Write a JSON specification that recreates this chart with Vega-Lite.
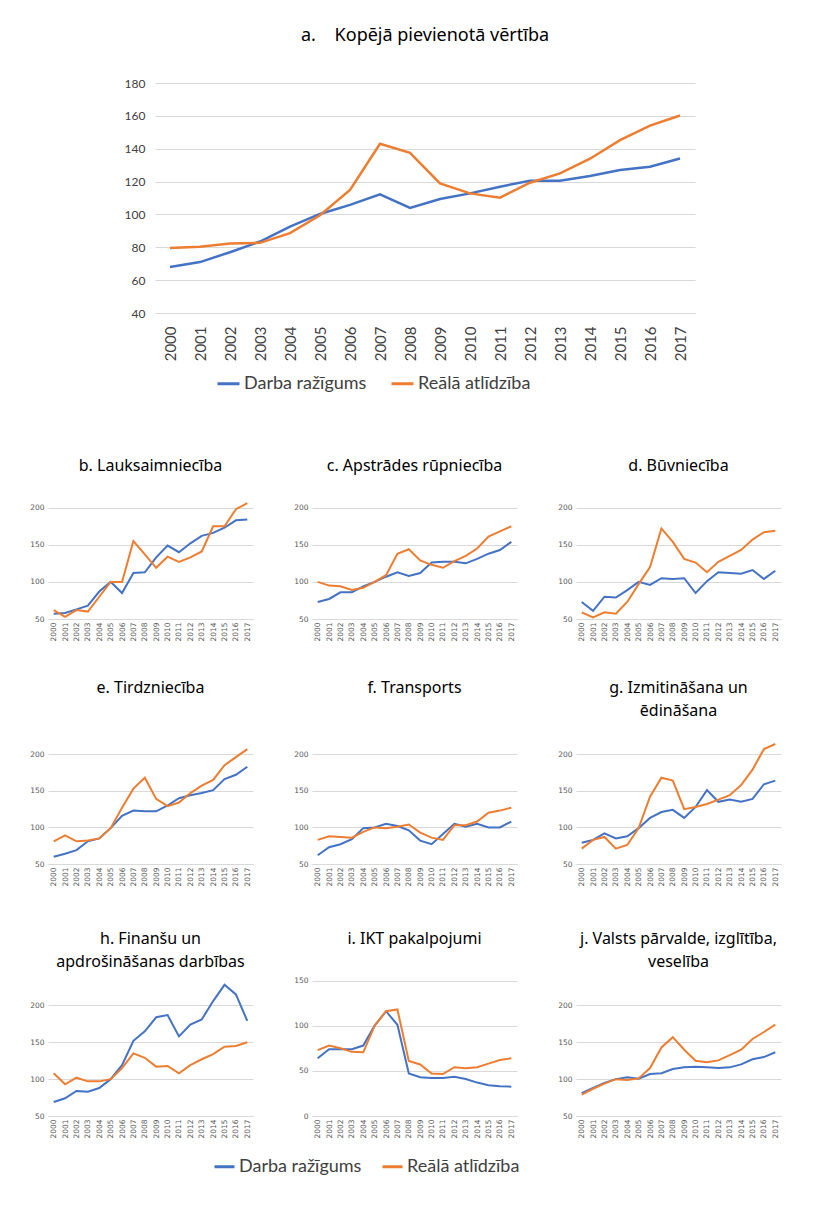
{
  "$schema": "https://vega.github.io/schema/vega-lite/v6.json",
  "padding": {"left": 29, "top": 27, "right": 5, "bottom": 5},
  "background": "white",
  "datasets": {
    "d": [
      {"p":"a","year":2000,"Darba ražīgums":68,"Reālā atlīdzība":79.5},
      {"p":"a","year":2001,"Darba ražīgums":71,"Reālā atlīdzība":80.3},
      {"p":"a","year":2002,"Darba ražīgums":77,"Reālā atlīdzība":82.3},
      {"p":"a","year":2003,"Darba ražīgums":83.5,"Reālā atlīdzība":82.7},
      {"p":"a","year":2004,"Darba ražīgums":92.6,"Reālā atlīdzība":88.6},
      {"p":"a","year":2005,"Darba ražīgums":100.3,"Reālā atlīdzība":99.5},
      {"p":"a","year":2006,"Darba ražīgums":105.8,"Reālā atlīdzība":114.9},
      {"p":"a","year":2007,"Darba ražīgums":112.2,"Reālā atlīdzība":143},
      {"p":"a","year":2008,"Darba ražīgums":104,"Reālā atlīdzība":137.5},
      {"p":"a","year":2009,"Darba ražīgums":109.4,"Reālā atlīdzība":118.9},
      {"p":"a","year":2010,"Darba ražīgums":112.8,"Reālā atlīdzība":112.8},
      {"p":"a","year":2011,"Darba ražīgums":116.9,"Reālā atlīdzība":110.2},
      {"p":"a","year":2012,"Darba ražīgums":120.5,"Reālā atlīdzība":119.3},
      {"p":"a","year":2013,"Darba ražīgums":120.5,"Reālā atlīdzība":125},
      {"p":"a","year":2014,"Darba ražīgums":123.4,"Reālā atlīdzība":133.9},
      {"p":"a","year":2015,"Darba ražīgums":127,"Reālā atlīdzība":145.2},
      {"p":"a","year":2016,"Darba ražīgums":129,"Reālā atlīdzība":154.1},
      {"p":"a","year":2017,"Darba ražīgums":134,"Reālā atlīdzība":160.2},

      {"p":"b","year":2000,"Darba ražīgums":57,"Reālā atlīdzība":62},
      {"p":"b","year":2001,"Darba ražīgums":58,"Reālā atlīdzība":53},
      {"p":"b","year":2002,"Darba ražīgums":63,"Reālā atlīdzība":62},
      {"p":"b","year":2003,"Darba ražīgums":68,"Reālā atlīdzība":60},
      {"p":"b","year":2004,"Darba ražīgums":87,"Reālā atlīdzība":80},
      {"p":"b","year":2005,"Darba ražīgums":100,"Reālā atlīdzība":100},
      {"p":"b","year":2006,"Darba ražīgums":85,"Reālā atlīdzība":100},
      {"p":"b","year":2007,"Darba ražīgums":112,"Reālā atlīdzība":155},
      {"p":"b","year":2008,"Darba ražīgums":113,"Reālā atlīdzība":137},
      {"p":"b","year":2009,"Darba ražīgums":133,"Reālā atlīdzība":119},
      {"p":"b","year":2010,"Darba ražīgums":149,"Reālā atlīdzība":134},
      {"p":"b","year":2011,"Darba ražīgums":140,"Reālā atlīdzība":127},
      {"p":"b","year":2012,"Darba ražīgums":152,"Reālā atlīdzība":133},
      {"p":"b","year":2013,"Darba ražīgums":162,"Reālā atlīdzība":141},
      {"p":"b","year":2014,"Darba ražīgums":166,"Reālā atlīdzība":175},
      {"p":"b","year":2015,"Darba ražīgums":173,"Reālā atlīdzība":175},
      {"p":"b","year":2016,"Darba ražīgums":183,"Reālā atlīdzība":198},
      {"p":"b","year":2017,"Darba ražīgums":184,"Reālā atlīdzība":206},

      {"p":"c","year":2000,"Darba ražīgums":73,"Reālā atlīdzība":100},
      {"p":"c","year":2001,"Darba ražīgums":77,"Reālā atlīdzība":95},
      {"p":"c","year":2002,"Darba ražīgums":86,"Reālā atlīdzība":94},
      {"p":"c","year":2003,"Darba ražīgums":86,"Reālā atlīdzība":89},
      {"p":"c","year":2004,"Darba ražīgums":94,"Reālā atlīdzība":92},
      {"p":"c","year":2005,"Darba ražīgums":100,"Reālā atlīdzība":100},
      {"p":"c","year":2006,"Darba ražīgums":107,"Reālā atlīdzība":109},
      {"p":"c","year":2007,"Darba ražīgums":113,"Reālā atlīdzība":138},
      {"p":"c","year":2008,"Darba ražīgums":108,"Reālā atlīdzība":144},
      {"p":"c","year":2009,"Darba ražīgums":112,"Reālā atlīdzība":129},
      {"p":"c","year":2010,"Darba ražīgums":126,"Reālā atlīdzība":123},
      {"p":"c","year":2011,"Darba ražīgums":127,"Reālā atlīdzība":119},
      {"p":"c","year":2012,"Darba ražīgums":127,"Reālā atlīdzība":128},
      {"p":"c","year":2013,"Darba ražīgums":125,"Reālā atlīdzība":135},
      {"p":"c","year":2014,"Darba ražīgums":131,"Reālā atlīdzība":145},
      {"p":"c","year":2015,"Darba ražīgums":138,"Reālā atlīdzība":161},
      {"p":"c","year":2016,"Darba ražīgums":143,"Reālā atlīdzība":168},
      {"p":"c","year":2017,"Darba ražīgums":154,"Reālā atlīdzība":175},

      {"p":"d","year":2000,"Darba ražīgums":73,"Reālā atlīdzība":59},
      {"p":"d","year":2001,"Darba ražīgums":61,"Reālā atlīdzība":52},
      {"p":"d","year":2002,"Darba ražīgums":80,"Reālā atlīdzība":59},
      {"p":"d","year":2003,"Darba ražīgums":79,"Reālā atlīdzība":57},
      {"p":"d","year":2004,"Darba ražīgums":89,"Reālā atlīdzība":73},
      {"p":"d","year":2005,"Darba ražīgums":100,"Reālā atlīdzība":97},
      {"p":"d","year":2006,"Darba ražīgums":96,"Reālā atlīdzība":120},
      {"p":"d","year":2007,"Darba ražīgums":105,"Reālā atlīdzība":172},
      {"p":"d","year":2008,"Darba ražīgums":104,"Reālā atlīdzība":154},
      {"p":"d","year":2009,"Darba ražīgums":105,"Reālā atlīdzība":131},
      {"p":"d","year":2010,"Darba ražīgums":85,"Reālā atlīdzība":126},
      {"p":"d","year":2011,"Darba ražīgums":101,"Reālā atlīdzība":113},
      {"p":"d","year":2012,"Darba ražīgums":113,"Reālā atlīdzība":127},
      {"p":"d","year":2013,"Darba ražīgums":112,"Reālā atlīdzība":135},
      {"p":"d","year":2014,"Darba ražīgums":111,"Reālā atlīdzība":143},
      {"p":"d","year":2015,"Darba ražīgums":116,"Reālā atlīdzība":157},
      {"p":"d","year":2016,"Darba ražīgums":104,"Reālā atlīdzība":167},
      {"p":"d","year":2017,"Darba ražīgums":115,"Reālā atlīdzība":169},

      {"p":"e","year":2000,"Darba ražīgums":60,"Reālā atlīdzība":81},
      {"p":"e","year":2001,"Darba ražīgums":64,"Reālā atlīdzība":89},
      {"p":"e","year":2002,"Darba ražīgums":69,"Reālā atlīdzība":81},
      {"p":"e","year":2003,"Darba ražīgums":81,"Reālā atlīdzība":82},
      {"p":"e","year":2004,"Darba ražīgums":85,"Reālā atlīdzība":85},
      {"p":"e","year":2005,"Darba ražīgums":99,"Reālā atlīdzība":99},
      {"p":"e","year":2006,"Darba ražīgums":116,"Reālā atlīdzība":127},
      {"p":"e","year":2007,"Darba ražīgums":123,"Reālā atlīdzība":153},
      {"p":"e","year":2008,"Darba ražīgums":122,"Reālā atlīdzība":168},
      {"p":"e","year":2009,"Darba ražīgums":122,"Reālā atlīdzība":139},
      {"p":"e","year":2010,"Darba ražīgums":130,"Reālā atlīdzība":129},
      {"p":"e","year":2011,"Darba ražīgums":140,"Reālā atlīdzība":134},
      {"p":"e","year":2012,"Darba ražīgums":144,"Reālā atlīdzība":147},
      {"p":"e","year":2013,"Darba ražīgums":147,"Reālā atlīdzība":157},
      {"p":"e","year":2014,"Darba ražīgums":151,"Reālā atlīdzība":165},
      {"p":"e","year":2015,"Darba ražīgums":166,"Reālā atlīdzība":185},
      {"p":"e","year":2016,"Darba ražīgums":172,"Reālā atlīdzība":196},
      {"p":"e","year":2017,"Darba ražīgums":183,"Reālā atlīdzība":207},

      {"p":"f","year":2000,"Darba ražīgums":62,"Reālā atlīdzība":83},
      {"p":"f","year":2001,"Darba ražīgums":73,"Reālā atlīdzība":88},
      {"p":"f","year":2002,"Darba ražīgums":77,"Reālā atlīdzība":87},
      {"p":"f","year":2003,"Darba ražīgums":84,"Reālā atlīdzība":86},
      {"p":"f","year":2004,"Darba ražīgums":99,"Reālā atlīdzība":94},
      {"p":"f","year":2005,"Darba ražīgums":100,"Reālā atlīdzība":100},
      {"p":"f","year":2006,"Darba ražīgums":105,"Reālā atlīdzība":99},
      {"p":"f","year":2007,"Darba ražīgums":102,"Reālā atlīdzība":101},
      {"p":"f","year":2008,"Darba ražīgums":96,"Reālā atlīdzība":104},
      {"p":"f","year":2009,"Darba ražīgums":82,"Reālā atlīdzība":93},
      {"p":"f","year":2010,"Darba ražīgums":77,"Reālā atlīdzība":86},
      {"p":"f","year":2011,"Darba ražīgums":91,"Reālā atlīdzība":83},
      {"p":"f","year":2012,"Darba ražīgums":105,"Reālā atlīdzība":103},
      {"p":"f","year":2013,"Darba ražīgums":101,"Reālā atlīdzība":103},
      {"p":"f","year":2014,"Darba ražīgums":105,"Reālā atlīdzība":108},
      {"p":"f","year":2015,"Darba ražīgums":100,"Reālā atlīdzība":120},
      {"p":"f","year":2016,"Darba ražīgums":100,"Reālā atlīdzība":123},
      {"p":"f","year":2017,"Darba ražīgums":108,"Reālā atlīdzība":127},

      {"p":"g","year":2000,"Darba ražīgums":79,"Reālā atlīdzība":71},
      {"p":"g","year":2001,"Darba ražīgums":83,"Reālā atlīdzība":83},
      {"p":"g","year":2002,"Darba ražīgums":92,"Reālā atlīdzība":87},
      {"p":"g","year":2003,"Darba ražīgums":85,"Reālā atlīdzība":71},
      {"p":"g","year":2004,"Darba ražīgums":88,"Reālā atlīdzība":76},
      {"p":"g","year":2005,"Darba ražīgums":99,"Reālā atlīdzība":99},
      {"p":"g","year":2006,"Darba ražīgums":113,"Reālā atlīdzība":142},
      {"p":"g","year":2007,"Darba ražīgums":121,"Reālā atlīdzība":168},
      {"p":"g","year":2008,"Darba ražīgums":124,"Reālā atlīdzība":164},
      {"p":"g","year":2009,"Darba ražīgums":113,"Reālā atlīdzība":125},
      {"p":"g","year":2010,"Darba ražīgums":128,"Reālā atlīdzība":128},
      {"p":"g","year":2011,"Darba ražīgums":151,"Reālā atlīdzība":132},
      {"p":"g","year":2012,"Darba ražīgums":135,"Reālā atlīdzība":138},
      {"p":"g","year":2013,"Darba ražīgums":138,"Reālā atlīdzība":144},
      {"p":"g","year":2014,"Darba ražīgums":135,"Reālā atlīdzība":158},
      {"p":"g","year":2015,"Darba ražīgums":139,"Reālā atlīdzība":179},
      {"p":"g","year":2016,"Darba ražīgums":159,"Reālā atlīdzība":207},
      {"p":"g","year":2017,"Darba ražīgums":164,"Reālā atlīdzība":214},

      {"p":"h","year":2000,"Darba ražīgums":69,"Reālā atlīdzība":108},
      {"p":"h","year":2001,"Darba ražīgums":74,"Reālā atlīdzība":93},
      {"p":"h","year":2002,"Darba ražīgums":84,"Reālā atlīdzība":102},
      {"p":"h","year":2003,"Darba ražīgums":83,"Reālā atlīdzība":97},
      {"p":"h","year":2004,"Darba ražīgums":88,"Reālā atlīdzība":97},
      {"p":"h","year":2005,"Darba ražīgums":100,"Reālā atlīdzība":100},
      {"p":"h","year":2006,"Darba ražīgums":119,"Reālā atlīdzība":115},
      {"p":"h","year":2007,"Darba ražīgums":152,"Reālā atlīdzība":135},
      {"p":"h","year":2008,"Darba ražīgums":165,"Reālā atlīdzība":129},
      {"p":"h","year":2009,"Darba ražīgums":184,"Reālā atlīdzība":117},
      {"p":"h","year":2010,"Darba ražīgums":187,"Reālā atlīdzība":118},
      {"p":"h","year":2011,"Darba ražīgums":158,"Reālā atlīdzība":108},
      {"p":"h","year":2012,"Darba ražīgums":174,"Reālā atlīdzība":119},
      {"p":"h","year":2013,"Darba ražīgums":181,"Reālā atlīdzība":127},
      {"p":"h","year":2014,"Darba ražīgums":206,"Reālā atlīdzība":134},
      {"p":"h","year":2015,"Darba ražīgums":228,"Reālā atlīdzība":144},
      {"p":"h","year":2016,"Darba ražīgums":215,"Reālā atlīdzība":145},
      {"p":"h","year":2017,"Darba ražīgums":179,"Reālā atlīdzība":150},

      {"p":"i","year":2000,"Darba ražīgums":64,"Reālā atlīdzība":73},
      {"p":"i","year":2001,"Darba ražīgums":74,"Reālā atlīdzība":78},
      {"p":"i","year":2002,"Darba ražīgums":74,"Reālā atlīdzība":75},
      {"p":"i","year":2003,"Darba ražīgums":74,"Reālā atlīdzība":71},
      {"p":"i","year":2004,"Darba ražīgums":78,"Reālā atlīdzība":70.5},
      {"p":"i","year":2005,"Darba ražīgums":100,"Reālā atlīdzība":100},
      {"p":"i","year":2006,"Darba ražīgums":116,"Reālā atlīdzība":116},
      {"p":"i","year":2007,"Darba ražīgums":101,"Reālā atlīdzība":118},
      {"p":"i","year":2008,"Darba ražīgums":47,"Reālā atlīdzība":61},
      {"p":"i","year":2009,"Darba ražīgums":43,"Reālā atlīdzība":57},
      {"p":"i","year":2010,"Darba ražīgums":42,"Reālā atlīdzība":47},
      {"p":"i","year":2011,"Darba ražīgums":42,"Reālā atlīdzība":46.5},
      {"p":"i","year":2012,"Darba ražīgums":43.5,"Reālā atlīdzība":54},
      {"p":"i","year":2013,"Darba ražīgums":41,"Reālā atlīdzība":53},
      {"p":"i","year":2014,"Darba ražīgums":37,"Reālā atlīdzība":54},
      {"p":"i","year":2015,"Darba ražīgums":34,"Reālā atlīdzība":58},
      {"p":"i","year":2016,"Darba ražīgums":33,"Reālā atlīdzība":62},
      {"p":"i","year":2017,"Darba ražīgums":32.5,"Reālā atlīdzība":64},

      {"p":"j","year":2000,"Darba ražīgums":81,"Reālā atlīdzība":79},
      {"p":"j","year":2001,"Darba ražīgums":88,"Reālā atlīdzība":87},
      {"p":"j","year":2002,"Darba ražīgums":95,"Reālā atlīdzība":94},
      {"p":"j","year":2003,"Darba ražīgums":100,"Reālā atlīdzība":100},
      {"p":"j","year":2004,"Darba ražīgums":102.6,"Reālā atlīdzība":99},
      {"p":"j","year":2005,"Darba ražīgums":100.5,"Reālā atlīdzība":101},
      {"p":"j","year":2006,"Darba ražīgums":107,"Reālā atlīdzība":115},
      {"p":"j","year":2007,"Darba ražīgums":108,"Reālā atlīdzība":143},
      {"p":"j","year":2008,"Darba ražīgums":113.7,"Reālā atlīdzība":157},
      {"p":"j","year":2009,"Darba ražīgums":116,"Reālā atlīdzība":140},
      {"p":"j","year":2010,"Darba ražīgums":117,"Reālā atlīdzība":125},
      {"p":"j","year":2011,"Darba ražīgums":116,"Reālā atlīdzība":123},
      {"p":"j","year":2012,"Darba ražīgums":115,"Reālā atlīdzība":125.5},
      {"p":"j","year":2013,"Darba ražīgums":116,"Reālā atlīdzība":132.6},
      {"p":"j","year":2014,"Darba ražīgums":120,"Reālā atlīdzība":140},
      {"p":"j","year":2015,"Darba ražīgums":127,"Reālā atlīdzība":154.6},
      {"p":"j","year":2016,"Darba ražīgums":130,"Reālā atlīdzība":164},
      {"p":"j","year":2017,"Darba ražīgums":136.5,"Reālā atlīdzība":174}
    ]
  },
  "data": {"name": "d"},
  "resolve": {"legend": {"color": "independent"}},
  "spacing": 65,
  "vconcat": [
    {
      "spacing": 20,
      "resolve": {"legend": {"color": "independent"}},
      "hconcat": [
        {
          "width": 56, "height": 10,
          "transform": [{"filter": "false"}],
          "mark": {"type": "point"},
          "encoding": {}
        },
        {
          "title": {"text": "a.\u00a0\u00a0\u00a0\u00a0Kopējā pievienotā vērtība", "fontSize": 18, "offset": 32},
          "width": 540, "height": 230,
          "transform": [{"filter": "datum.p == 'a'"}, {"fold": ["Darba ražīgums", "Reālā atlīdzība"], "as": ["s", "v"]}],
          "mark": {"type": "line", "strokeWidth": 2.5},
          "encoding": {
            "x": {"field": "year", "type": "ordinal", "title": null,
                  "axis": {"labelFont": "Lato", "labelFontSize": 15, "labelColor": "#404040", "labelPadding": 13, "domainColor": "#d9d9d9"}},
            "y": {"field": "v", "type": "quantitative", "title": null,
                  "scale": {"domain": [40, 180], "nice": false, "zero": false},
                  "axis": {"values": [40, 60, 80, 100, 120, 140, 160, 180], "labelFont": "Lato", "labelFontSize": 12, "labelColor": "#404040", "labelPadding": 10}},
            "color": {"field": "s", "type": "nominal", "title": null,
                      "scale": {"domain": ["Darba ražīgums", "Reālā atlīdzība"], "range": ["#4472C4", "#ED7D31"]},
                      "legend": {"orient": "none", "legendX": 61, "legendY": 288, "direction": "horizontal",
                                 "labelFont": "Lato", "labelFontSize": 18, "labelColor": "#404040",
                                 "symbolType": "stroke", "symbolSize": 484, "symbolStrokeWidth": 3, "columnPadding": 18, "labelOffset": 3}}
          }
        }
      ]
    },
    {
      "spacing": 38,
      "resolve": {"legend": {"color": "independent"}},
      "vconcat": [
        {
          "spacing": 40,
          "hconcat": [
            {
              "title": {"text": "b. Lauksaimniecība", "offset": 4},
              "width": 205, "height": 141,
              "transform": [{"filter": "datum.p == 'b'"}, {"fold": ["Darba ražīgums", "Reālā atlīdzība"], "as": ["s", "v"]}],
              "mark": {"type": "line", "strokeWidth": 2},
              "encoding": {
                "x": {"field": "year", "type": "ordinal", "title": null},
                "y": {"field": "v", "type": "quantitative", "title": null, "scale": {"domain": [50, 240], "nice": false, "zero": false}, "axis": {"values": [50, 100, 150, 200]}},
                "color": {"field": "s", "type": "nominal", "scale": {"domain": ["Darba ražīgums", "Reālā atlīdzība"], "range": ["#4472C4", "#ED7D31"]}, "legend": null}
              }
            },
            {
              "title": {"text": "c. Apstrādes rūpniecība", "offset": 4},
              "width": 205, "height": 141,
              "transform": [{"filter": "datum.p == 'c'"}, {"fold": ["Darba ražīgums", "Reālā atlīdzība"], "as": ["s", "v"]}],
              "mark": {"type": "line", "strokeWidth": 2},
              "encoding": {
                "x": {"field": "year", "type": "ordinal", "title": null},
                "y": {"field": "v", "type": "quantitative", "title": null, "scale": {"domain": [50, 240], "nice": false, "zero": false}, "axis": {"values": [50, 100, 150, 200]}},
                "color": {"field": "s", "type": "nominal", "scale": {"domain": ["Darba ražīgums", "Reālā atlīdzība"], "range": ["#4472C4", "#ED7D31"]}, "legend": null}
              }
            },
            {
              "title": {"text": "d. Būvniecība", "offset": 4},
              "width": 205, "height": 141,
              "transform": [{"filter": "datum.p == 'd'"}, {"fold": ["Darba ražīgums", "Reālā atlīdzība"], "as": ["s", "v"]}],
              "mark": {"type": "line", "strokeWidth": 2},
              "encoding": {
                "x": {"field": "year", "type": "ordinal", "title": null},
                "y": {"field": "v", "type": "quantitative", "title": null, "scale": {"domain": [50, 240], "nice": false, "zero": false}, "axis": {"values": [50, 100, 150, 200]}},
                "color": {"field": "s", "type": "nominal", "scale": {"domain": ["Darba ražīgums", "Reālā atlīdzība"], "range": ["#4472C4", "#ED7D31"]}, "legend": null}
              }
            }
          ]
        },
        {
          "spacing": 40,
          "hconcat": [
            {
              "title": {"text": ["e. Tirdzniecība", ""]},
              "width": 205, "height": 139,
              "transform": [{"filter": "datum.p == 'e'"}, {"fold": ["Darba ražīgums", "Reālā atlīdzība"], "as": ["s", "v"]}],
              "mark": {"type": "line", "strokeWidth": 2},
              "encoding": {
                "x": {"field": "year", "type": "ordinal", "title": "\u00a0", "axis": {"titleFontSize": 1, "titlePadding": 5}},
                "y": {"field": "v", "type": "quantitative", "title": null, "scale": {"domain": [50, 240], "nice": false, "zero": false}, "axis": {"values": [50, 100, 150, 200]}},
                "color": {"field": "s", "type": "nominal", "scale": {"domain": ["Darba ražīgums", "Reālā atlīdzība"], "range": ["#4472C4", "#ED7D31"]}, "legend": null}
              }
            },
            {
              "title": {"text": ["f. Transports", ""]},
              "width": 205, "height": 139,
              "transform": [{"filter": "datum.p == 'f'"}, {"fold": ["Darba ražīgums", "Reālā atlīdzība"], "as": ["s", "v"]}],
              "mark": {"type": "line", "strokeWidth": 2},
              "encoding": {
                "x": {"field": "year", "type": "ordinal", "title": "\u00a0", "axis": {"titleFontSize": 1, "titlePadding": 5}},
                "y": {"field": "v", "type": "quantitative", "title": null, "scale": {"domain": [50, 240], "nice": false, "zero": false}, "axis": {"values": [50, 100, 150, 200]}},
                "color": {"field": "s", "type": "nominal", "scale": {"domain": ["Darba ražīgums", "Reālā atlīdzība"], "range": ["#4472C4", "#ED7D31"]}, "legend": null}
              }
            },
            {
              "title": {"text": ["g. Izmitināšana un", "ēdināšana"]},
              "width": 205, "height": 139,
              "transform": [{"filter": "datum.p == 'g'"}, {"fold": ["Darba ražīgums", "Reālā atlīdzība"], "as": ["s", "v"]}],
              "mark": {"type": "line", "strokeWidth": 2},
              "encoding": {
                "x": {"field": "year", "type": "ordinal", "title": "\u00a0", "axis": {"titleFontSize": 1, "titlePadding": 5}},
                "y": {"field": "v", "type": "quantitative", "title": null, "scale": {"domain": [50, 240], "nice": false, "zero": false}, "axis": {"values": [50, 100, 150, 200]}},
                "color": {"field": "s", "type": "nominal", "scale": {"domain": ["Darba ražīgums", "Reālā atlīdzība"], "range": ["#4472C4", "#ED7D31"]}, "legend": null}
              }
            }
          ]
        },
        {
          "spacing": 12,
          "resolve": {"legend": {"color": "independent"}},
          "vconcat": [
            {
              "spacing": 40,
              "hconcat": [
                {
                  "title": {"text": ["h. Finanšu un", "apdrošināšanas darbības"]},
                  "width": 205, "height": 140,
                  "transform": [{"filter": "datum.p == 'h'"}, {"fold": ["Darba ražīgums", "Reālā atlīdzība"], "as": ["s", "v"]}],
                  "mark": {"type": "line", "strokeWidth": 2},
                  "encoding": {
                    "x": {"field": "year", "type": "ordinal", "title": null},
                    "y": {"field": "v", "type": "quantitative", "title": null, "scale": {"domain": [50, 240], "nice": false, "zero": false}, "axis": {"values": [50, 100, 150, 200]}},
                    "color": {"field": "s", "type": "nominal", "scale": {"domain": ["Darba ražīgums", "Reālā atlīdzība"], "range": ["#4472C4", "#ED7D31"]}, "legend": null}
                  }
                },
                {
                  "title": {"text": ["i. IKT pakalpojumi", ""]},
                  "width": 205, "height": 140,
                  "transform": [{"filter": "datum.p == 'i'"}, {"fold": ["Darba ražīgums", "Reālā atlīdzība"], "as": ["s", "v"]}],
                  "mark": {"type": "line", "strokeWidth": 2},
                  "encoding": {
                    "x": {"field": "year", "type": "ordinal", "title": null},
                    "y": {"field": "v", "type": "quantitative", "title": null, "scale": {"domain": [0, 155], "nice": false, "zero": false}, "axis": {"values": [0, 50, 100, 150]}},
                    "color": {"field": "s", "type": "nominal", "scale": {"domain": ["Darba ražīgums", "Reālā atlīdzība"], "range": ["#4472C4", "#ED7D31"]}, "legend": null}
                  }
                },
                {
                  "title": {"text": ["j. Valsts pārvalde, izglītība,", "veselība"]},
                  "width": 205, "height": 140,
                  "transform": [{"filter": "datum.p == 'j'"}, {"fold": ["Darba ražīgums", "Reālā atlīdzība"], "as": ["s", "v"]}],
                  "mark": {"type": "line", "strokeWidth": 2},
                  "encoding": {
                    "x": {"field": "year", "type": "ordinal", "title": null},
                    "y": {"field": "v", "type": "quantitative", "title": null, "scale": {"domain": [50, 240], "nice": false, "zero": false}, "axis": {"values": [50, 100, 150, 200]}},
                    "color": {"field": "s", "type": "nominal", "scale": {"domain": ["Darba ražīgums", "Reālā atlīdzība"], "range": ["#4472C4", "#ED7D31"]}, "legend": null}
                  }
                }
              ]
            },
            {
              "width": 560, "height": 1,
              "transform": [{"filter": "datum.p == 'a' && datum.year == 2000"}, {"fold": ["Darba ražīgums", "Reālā atlīdzība"], "as": ["s", "v"]}],
              "mark": {"type": "line"},
              "encoding": {
                "x": {"field": "year", "type": "ordinal", "axis": null},
                "y": {"field": "v", "type": "quantitative", "axis": null},
                "color": {"field": "s", "type": "nominal", "title": null,
                          "scale": {"domain": ["Darba ražīgums", "Reālā atlīdzība"], "range": ["#4472C4", "#ED7D31"]},
                          "legend": {"orient": "none", "legendX": 165, "legendY": 0, "direction": "horizontal",
                                     "labelFont": "Lato", "labelFontSize": 18, "labelColor": "#404040",
                                     "symbolType": "stroke", "symbolSize": 400, "symbolStrokeWidth": 3, "columnPadding": 14, "labelOffset": 3}}
              }
            }
          ]
        }
      ]
    }
  ],
  "config": {
    "view": {"stroke": null},
    "title": {"font": "Noto Sans", "fontSize": 16, "fontWeight": "normal", "color": "#000000", "lineHeight": 23, "offset": 6},
    "axis": {"labelFont": "DejaVu Sans", "labelFontSize": 7.5, "labelColor": "#595959", "ticks": false, "domain": false, "gridColor": "#d9d9d9", "labelPadding": 4},
    "axisX": {"grid": false, "labelAngle": -90, "labelFontSize": 7.5, "domain": true, "domainColor": "#d9d9d9", "labelPadding": 3},
    "axisY": {"grid": true, "gridWidth": 1}
  }
}
